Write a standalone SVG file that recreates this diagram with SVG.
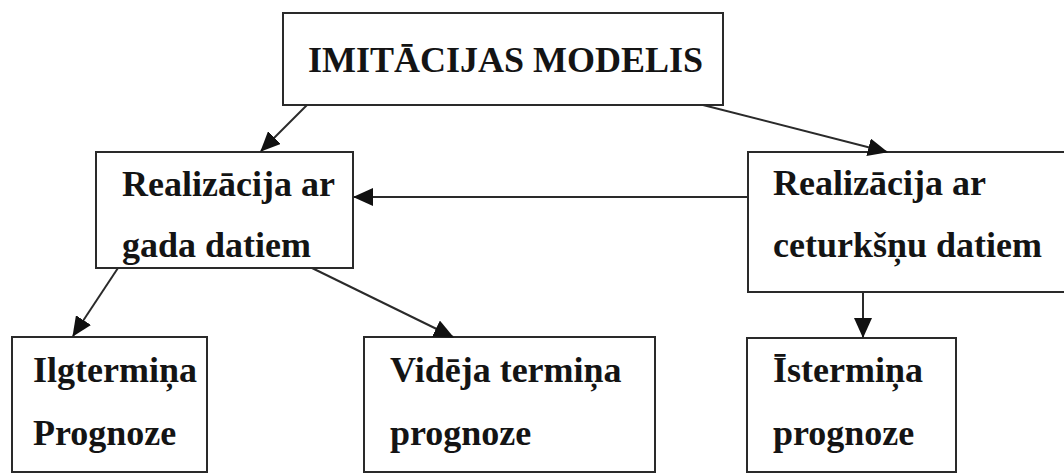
<svg xmlns="http://www.w3.org/2000/svg" width="1064" height="473" viewBox="0 0 1064 473">
<style>
.box{fill:#fff;stroke:#2a2a2a;stroke-width:2}
.t{font-weight:bold;font-size:36px;fill:#141414}
.c{fill:none;stroke:#2a2a2a;stroke-width:2}
</style>
<defs>
<marker id="ah" markerUnits="userSpaceOnUse" markerWidth="20" markerHeight="18" viewBox="0 0 20 18" refX="19" refY="9" orient="auto">
<path d="M0,0 L20,9 L0,18 Z" fill="#111"/>
</marker>
</defs>
<rect width="1064" height="473" fill="#fff"/>
<g font-family="Liberation Serif, DejaVu Serif, serif">
<g id="n-top"><rect class="box" x="283" y="13" width="440" height="92"/><text class="t" x="308" y="72">IMITĀCIJAS MODELIS</text></g>
<g id="n-gada"><rect class="box" x="96" y="152" width="257" height="116"/><text class="t" x="122" y="196">Realizācija ar</text><text class="t" x="122" y="257">gada datiem</text></g>
<g id="n-cet"><rect class="box" x="748" y="152" width="330" height="140"/><text class="t" x="773" y="195">Realizācija ar</text><text class="t" x="773" y="257">ceturkšņu datiem</text></g>
<g id="n-ilg"><rect class="box" x="12" y="337" width="195" height="135"/><text class="t" x="33" y="382">Ilgtermiņa</text><text class="t" x="33" y="445">Prognoze</text></g>
<g id="n-vid"><rect class="box" x="364" y="337" width="291" height="135"/><text class="t" x="390" y="382">Vidēja termiņa</text><text class="t" x="390" y="445">prognoze</text></g>
<g id="n-ist"><rect class="box" x="747" y="338" width="209" height="134"/><text class="t" x="773" y="382">Īstermiņa</text><text class="t" x="773" y="445">prognoze</text></g>
</g>
<g id="connectors">
<line class="c" x1="307" y1="105" x2="261" y2="151" marker-end="url(#ah)"/>
<line class="c" x1="703" y1="105" x2="887" y2="152" marker-end="url(#ah)"/>
<line class="c" x1="748" y1="197" x2="354" y2="197" marker-end="url(#ah)"/>
<line class="c" x1="118" y1="268" x2="73" y2="336" marker-end="url(#ah)"/>
<line class="c" x1="312" y1="268" x2="453" y2="337" marker-end="url(#ah)"/>
<line class="c" x1="863" y1="292" x2="863" y2="337" marker-end="url(#ah)"/>
</g>
</svg>
